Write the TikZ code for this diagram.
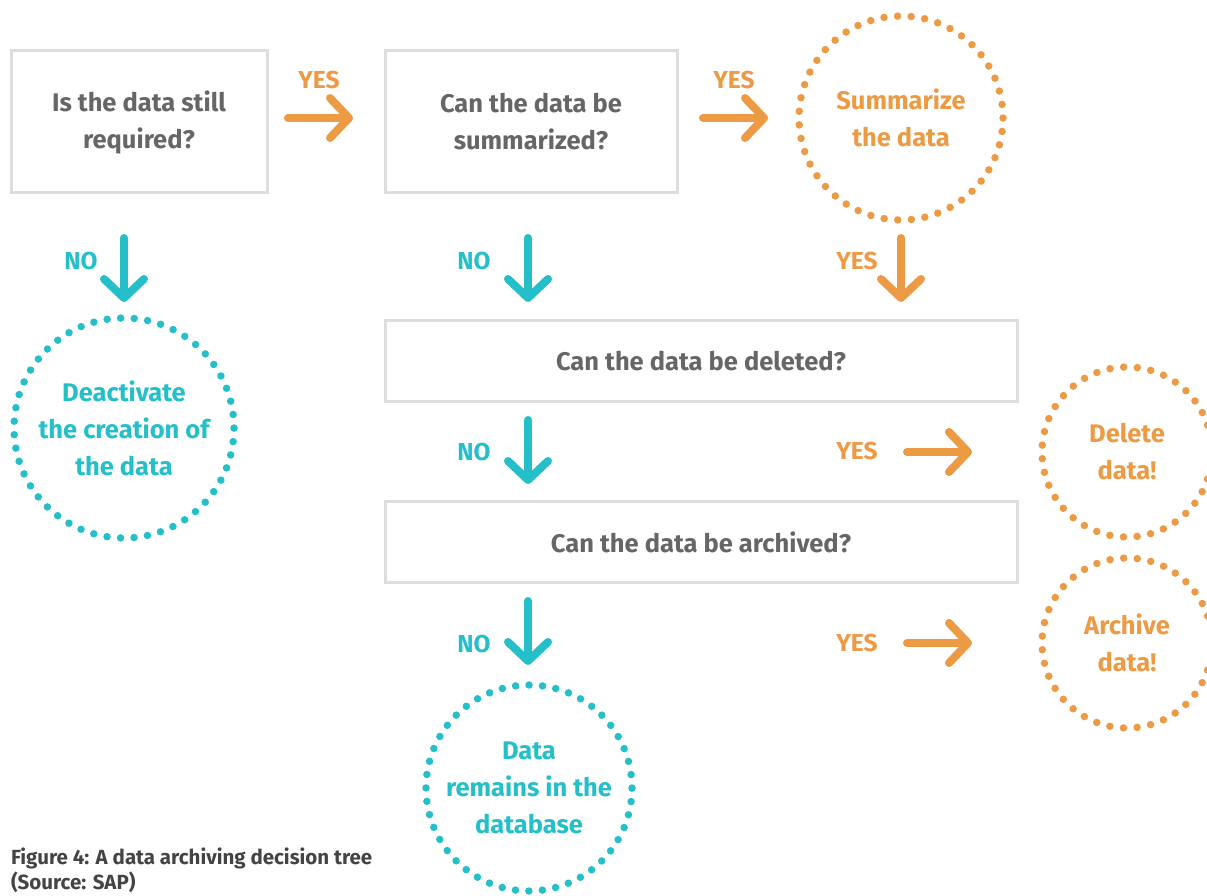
\documentclass[tikz,border=0pt]{standalone}
\usepackage{fontspec}
\setmainfont{Fira Sans}
\usetikzlibrary{arrows.meta,positioning}
\definecolor{org}{HTML}{ED9A45}
\definecolor{teal}{HTML}{25BFC9}
\definecolor{boxgray}{HTML}{DDDDDD}
\definecolor{txtgray}{HTML}{666666}
\definecolor{capgray}{HTML}{444444}
\tikzset{
  every node/.style={inner sep=0pt, outer sep=0pt},
  mainfont/.style={font=\fontsize{25.5}{37}\selectfont\bfseries},
  qbox/.style={draw=boxgray, line width=3pt, fill=white, text=txtgray, mainfont, align=center},
  dotring/.style n args={2}{circle, draw=#1, text=#1, line width=7.5pt, line cap=round, dash pattern=on 0pt off #2, mainfont, align=center},
  arr/.style={draw=#1, line width=8pt, line cap=round, line join=round, -{Straight Barb[length=19pt,width=40pt,line cap=round,line join=round]}},
  lbl/.style={text=#1, font=\fontsize{24.5}{28}\selectfont\bfseries},
}
\begin{document}
\begin{tikzpicture}[x=1pt,y=-1pt]
\useasboundingbox (0,0) rectangle (1207,896);
% question boxes
\node[qbox, minimum width=256pt, minimum height=142pt] (q1) at (139,122) {Is the data still\\required?};
\node[qbox, minimum width=292pt, minimum height=142pt] (q2) at (531,122) {Can the data be\\summarized?};
\node[qbox, minimum width=632pt, minimum height=81pt] (q3) at (701,361) {Can the data be deleted?};
\node[qbox, minimum width=632pt, minimum height=81pt] (q4) at (701,542) {Can the data be archived?};
% outcome rings
\node[dotring={org}{13.64pt}, minimum size=204pt] (sum) at (901,118) {Summarize\\the data};
\node[dotring={teal}{13.55pt}, minimum size=220pt] (deact) at (124,428) {Deactivate\\the creation of\\the data};
\node[dotring={org}{13.69pt}, minimum size=170pt] (del) at (1127,452) {Delete\\data!};
\node[dotring={org}{13.69pt}, minimum size=170pt] (arc) at (1127,643) {Archive\\data!};
\node[dotring={teal}{13.48pt}, minimum size=206pt] (keep) at (529,788) {Data\\remains in the\\database};
% arrow end points
\coordinate (a1s) at (288,118); \coordinate (a1e) at (353,118);
\coordinate (a2s) at (703,118); \coordinate (a2e) at (768,118);
\coordinate (a3s) at (124,238); \coordinate (a3e) at (124,302);
\coordinate (a4s) at (528,238); \coordinate (a4e) at (528,302);
\coordinate (a5s) at (901,238); \coordinate (a5e) at (901,302);
\coordinate (a6s) at (528,420); \coordinate (a6e) at (528,484);
\coordinate (a7s) at (907,452); \coordinate (a7e) at (972,452);
\coordinate (a8s) at (528,601); \coordinate (a8e) at (528,665);
\coordinate (a9s) at (907,643); \coordinate (a9e) at (972,643);
\draw[arr=org] (a1s) -- (a1e);
\draw[arr=org] (a2s) -- (a2e);
\draw[arr=teal] (a3s) -- (a3e);
\draw[arr=teal] (a4s) -- (a4e);
\draw[arr=org] (a5s) -- (a5e);
\draw[arr=teal] (a6s) -- (a6e);
\draw[arr=org] (a7s) -- (a7e);
\draw[arr=teal] (a8s) -- (a8e);
\draw[arr=org] (a9s) -- (a9e);
% labels
\node[lbl=org] (y1) at (319,80) {YES};
\node[lbl=org] (y2) at (734,80) {YES};
\node[lbl=teal] (n1) at (81,261) {NO};
\node[lbl=teal] (n2) at (474,261) {NO};
\node[lbl=org] (y3) at (857,261) {YES};
\node[lbl=teal] (n3) at (474,452) {NO};
\node[lbl=org] (y4) at (857,451) {YES};
\node[lbl=teal] (n4) at (474,644) {NO};
\node[lbl=org] (y5) at (857,643) {YES};
% caption
\node[anchor=north west, text=capgray, align=left, font=\fontsize{20.5}{25}\selectfont\bfseries] (cap) at (11,848) {Figure 4: A data archiving decision tree\\(Source: SAP)};
\end{tikzpicture}
\end{document}
